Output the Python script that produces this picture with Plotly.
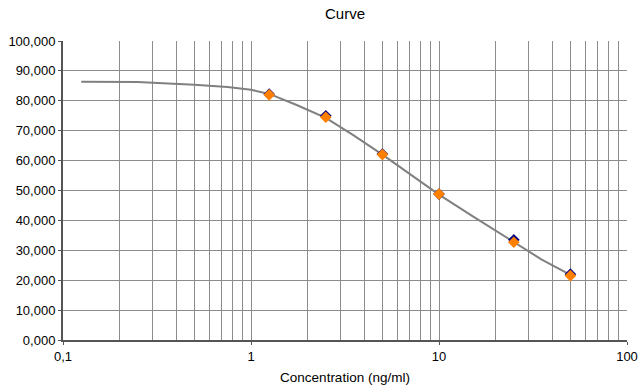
import plotly.graph_objects as go

# Data
conc = [1.25, 2.5, 5, 10, 25, 50]
signal_rep1 = [82200, 75000, 62200, 48800, 33500, 22000]
signal_rep2 = [82000, 74500, 62000, 48800, 32700, 21500]

curve_x = [0.125, 0.25, 0.3, 0.5, 0.75, 1, 1.25, 1.75, 2.5, 3.5, 5, 7, 10, 15, 25, 35, 50]
curve_y = [86400, 86300, 86000, 85400, 84600, 83700, 82300, 78600, 74300, 68500, 62000,
           55500, 48600, 41500, 32600, 27000, 21800]

x_tickvals = [0.1, 1, 10, 100]
x_ticktext = ["0,1", "1", "10", "100"]
x_minor = [m * 10 ** e for e in (-1, 0, 1) for m in range(2, 10)]
y_tickvals = [0, 10000, 20000, 30000, 40000, 50000, 60000, 70000, 80000, 90000, 100000]
y_ticktext = ["0,000", "10,000", "20,000", "30,000", "40,000", "50,000",
              "60,000", "70,000", "80,000", "90,000", "100,000"]

W, H = 639, 386

fig = go.Figure()
fig.add_trace(go.Scatter(x=curve_x, y=curve_y, mode="lines",
                         line=dict(color="#808080", width=2), hoverinfo="skip"))
fig.add_trace(go.Scatter(x=conc, y=signal_rep1, mode="markers",
                         marker=dict(symbol="diamond", size=9, color="#000080",
                                     line=dict(width=0))))
fig.add_trace(go.Scatter(x=conc, y=signal_rep2, mode="markers",
                         marker=dict(symbol="diamond", size=9, color="#FF8000",
                                     line=dict(width=0))))

fig.update_layout(
    width=W, height=H,
    margin=dict(l=63, r=12, t=41, b=46),
    paper_bgcolor="white", plot_bgcolor="white",
    showlegend=False,
    font=dict(family="Liberation Sans, Arial, sans-serif", size=13, color="black"),
    title=dict(text="Curve", x=345 / W, xanchor="center",
               y=1 - 14 / H, yanchor="middle", yref="container",
               automargin=False, font=dict(size=15)),
)
fig.update_xaxes(
    type="log", range=[-1, 2], automargin=False,
    tickmode="array", tickvals=x_tickvals, ticktext=x_ticktext,
    showgrid=True, gridcolor="#8c8c8c", gridwidth=1,
    minor=dict(tickmode="array", tickvals=x_minor, showgrid=True,
               gridcolor="#8c8c8c", gridwidth=1, ticks=""),
    showline=True, linecolor="#555555", linewidth=2,
    ticks="outside", ticklen=3, tickcolor="#555555",
    title=dict(text="Concentration (ng/ml)", standoff=10, font=dict(size=13.5)),
    zeroline=False,
)
fig.update_yaxes(
    range=[0, 100000], automargin=False,
    tickmode="array", tickvals=y_tickvals, ticktext=y_ticktext,
    showgrid=True, gridcolor="#8c8c8c", gridwidth=1,
    showline=True, linecolor="#555555", linewidth=2,
    ticks="outside", ticklen=3, tickcolor="#555555",
    zeroline=False,
)
fig.write_html(
    "out.html",
    config={"displayModeBar": False, "responsive": False},
    post_script="document.body.style.margin='0';document.body.style.overflow='hidden';",
)
